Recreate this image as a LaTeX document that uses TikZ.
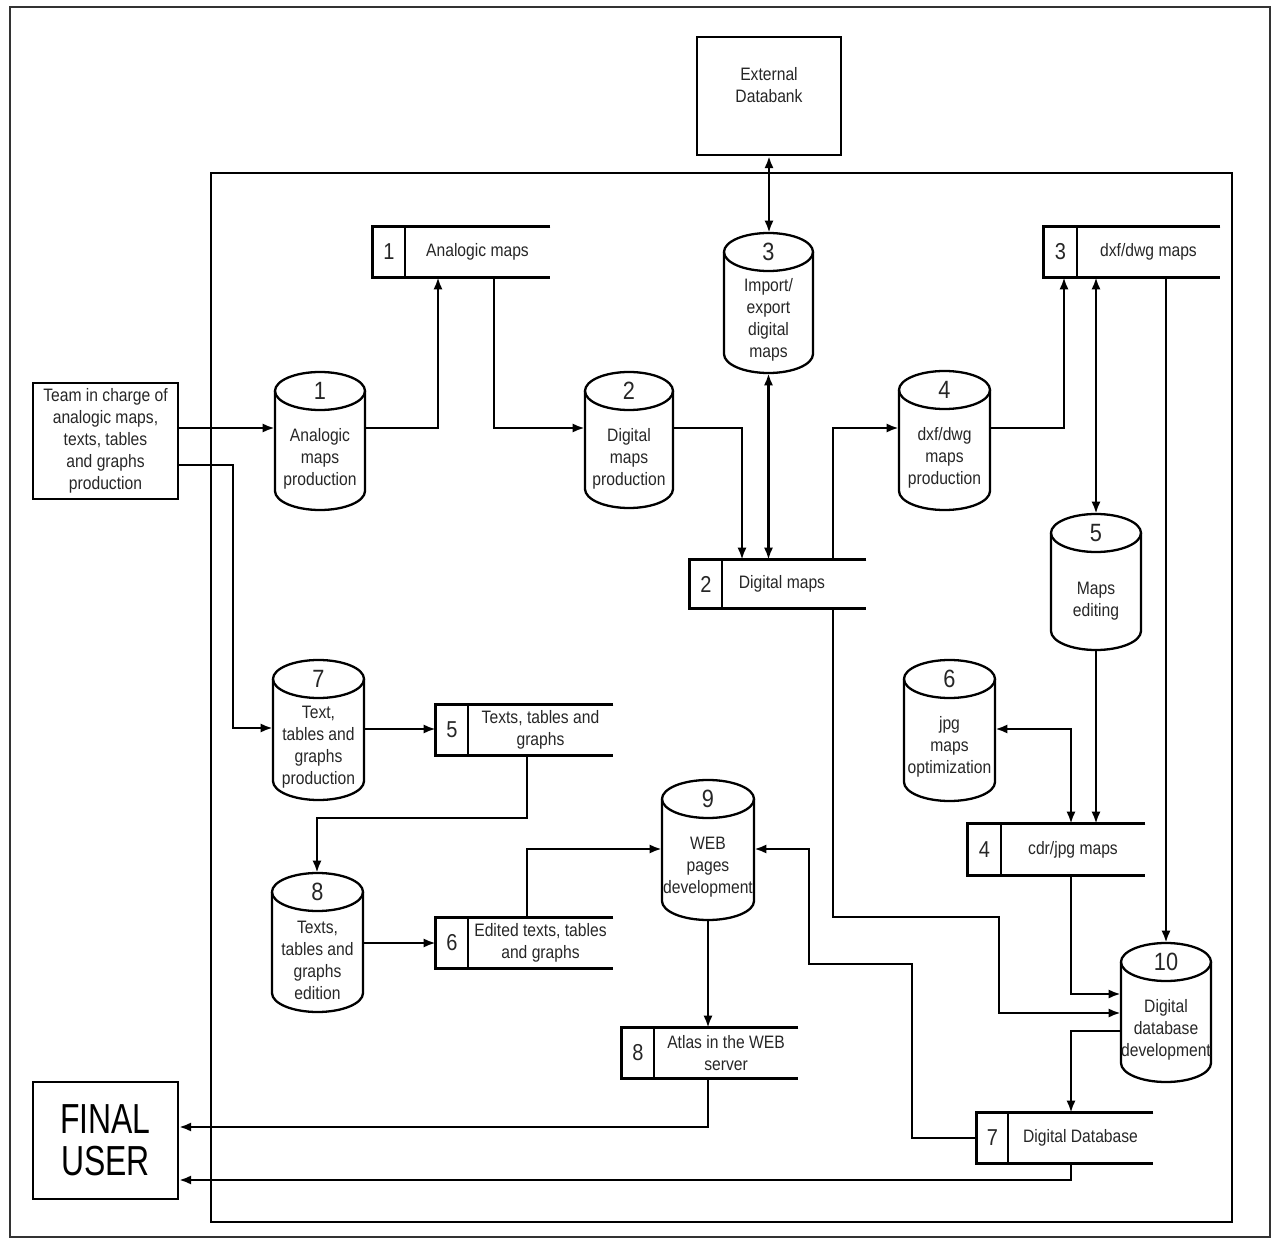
\documentclass[tikz,border=0pt]{standalone}
\usepackage{fontspec}
\setmainfont{Liberation Sans}[FakeStretch=0.87]
\newfontfamily\bigfont{Liberation Sans}[FakeStretch=0.76]
\usetikzlibrary{arrows.meta,fit}

\newcommand\dstore[9]{%
  \node[fit={(#2,#3) (#4,#5)}, inner sep=0pt] (#1) {};
  \draw[ln] (#1.north east) -- (#1.north west) -- (#1.south west) -- (#1.south east);
  \draw[ln] (#6,#3) -- (#6,#5);
  \node[snum] at ({(#2+#6)/2},{(#3+#5)/2}) {#7};
  \node[txt] at ({(#6+#4)/2+#9},{(#3+#5)/2}) {#8};
}
\newcommand\cylproc[7]{%
  \node[fit={(#2,#3) (#4,#5)}, inner sep=0pt] (#1) {};
  \draw[ln] (#2,#3+19) -- (#2,#5-19)
     arc[start angle=180, end angle=0, x radius={(#4-#2)/2}, y radius=19]
     -- (#4,#3+19);
  \draw[ln] ({(#2+#4)/2},#3+19) ellipse[x radius={(#4-#2)/2}, y radius=19];
  \node[cnum] at ({(#2+#4)/2},#3+19) {#6};
  \node[txt] at ({(#2+#4)/2},#3+87) {#7};
}

\begin{document}
\begin{tikzpicture}[x=0.5pt,y=-0.5pt,
  ln/.style={line width=1.15pt},
  flow/.style={line width=1.15pt, -{Latex[length=6pt,width=4.6pt]}},
  bflow/.style={line width=1.15pt, {Latex[length=6pt,width=4.6pt]}-{Latex[length=6pt,width=4.6pt]}},
  txt/.style={font=\fontsize{9}{11}\selectfont, align=center, inner sep=0pt, text=black!85},
  cnum/.style={font=\fontsize{12.5}{14}\selectfont, inner sep=0pt, text=black!85},
  snum/.style={font=\fontsize{11.5}{13}\selectfont, inner sep=0pt, text=black!85},
  extbox/.style={draw, line width=1.15pt, inner sep=0pt}]

\useasboundingbox (0,0) rectangle (1276,1241);
\draw[line width=1pt, black!80] (10,7) rectangle (1270,1237);
\draw[line width=1.15pt] (211,173) rectangle (1232,1222);

% external entities
\node[extbox, fit={(697,37) (841,155)}] (ext) {};
\node[txt] at (769,85) {External\\Databank};
\node[extbox, fit={(33,383) (178,499)}] (team) {};
\node[txt] at (team.center) {Team in charge of\\analogic maps,\\texts, tables\\and graphs\\production};
\node[extbox, fit={(33,1082) (178,1199)}] (final) {};
\node[font=\bigfont\fontsize{21}{21}\selectfont, align=center, inner sep=0pt, text=black] at (final.center) {FINAL\\USER};

% data stores
\dstore{d1}{373}{227}{550}{277}{405}{1}{Analogic maps}{0}
\dstore{d2}{690}{560}{866}{608}{722}{2}{Digital maps}{-12}
\dstore{d3}{1044}{227}{1220}{277}{1077}{3}{dxf/dwg maps}{0}
\dstore{d4}{968}{824}{1145}{875}{1001}{4}{cdr/jpg maps}{0}
\dstore{d5}{436}{705}{613}{755}{468}{5}{Texts, tables and\\graphs}{0}
\dstore{d6}{436}{918}{613}{968}{468}{6}{Edited texts, tables\\and graphs}{0}
\dstore{d7}{977}{1113}{1153}{1163}{1008}{7}{Digital Database}{0}
\dstore{d8}{622}{1028}{798}{1078}{654}{8}{Atlas in the WEB\\server}{0}

% processes
\cylproc{c1}{275}{372}{365}{510}{1}{Analogic\\maps\\production}
\cylproc{c2}{585}{372}{673}{508}{2}{Digital\\maps\\production}
\cylproc{c3}{724}{233}{813}{373}{3}{Import/\\export\\digital\\maps}
\cylproc{c4}{899}{371}{990}{510}{4}{dxf/dwg\\maps\\production}
\cylproc{c5}{1051}{514}{1141}{650}{5}{Maps\\editing}
\cylproc{c6}{904}{660}{995}{801}{6}{jpg\\maps\\optimization}
\cylproc{c7}{273}{660}{364}{800}{7}{Text,\\tables and\\graphs\\production}
\cylproc{c8}{272}{873}{363}{1012}{8}{Texts,\\tables and\\graphs\\edition}
\cylproc{c9}{662}{780}{754}{920}{9}{WEB\\pages\\development}
\cylproc{c10}{1121}{943}{1211}{1082}{10}{Digital\\database\\development}

% connectors
\draw[flow] (team.east |- 0,428) -- (c1.west |- 0,428);
\draw[flow] (team.east |- 0,465) -- (233,465) -- (233,728) -- (c7.west |- 0,728);
\draw[flow] (c1.east |- 0,428) -- (438,428) -- (d1.south -| 438,0);
\draw[flow] (d1.south -| 494,0) -- (494,428) -- (c2.west |- 0,428);
\draw[flow] (c2.east |- 0,428) -- (742,428) -- (d2.north -| 742,0);
\draw[bflow] (ext.south) -- (ext.south |- c3.north);
\draw[bflow] (c3.south) -- (c3.south |- d2.north);
\draw[flow] (d2.north -| 833,0) -- (833,428) -- (c4.west |- 0,428);
\draw[flow] (d2.south -| 833,0) -- (833,917) -- (999,917) -- (999,1013) -- (c10.west |- 0,1013);
\draw[flow] (c4.east |- 0,428) -- (1064,428) -- (d3.south -| 1064,0);
\draw[bflow] (d3.south -| c5.north) -- (c5.north);
\draw[flow] (d3.south -| c10.north) -- (c10.north);
\draw[flow] (c5.south) -- (c5.south |- d4.north);
\draw[bflow] (c6.east |- 0,729) -- (1071,729) -- (d4.north -| 1071,0);
\draw[flow] (d4.south -| 1071,0) -- (1071,994) -- (c10.west |- 0,994);
\draw[flow] (c10.west |- 0,1031) -- (1071,1031) -- (d7.north -| 1071,0);
\draw[flow] (d7.west) -- (912,1138) -- (912,964) -- (809,964) -- (809,849) -- (c9.east |- 0,849);
\draw[flow] (d7.south -| 1071,0) -- (1071,1180) -- (final.east |- 0,1180);
\draw[flow] (d8.south -| 708,0) -- (708,1127) -- (final.east |- 0,1127);
\draw[flow] (c9.south) -- (c9.south |- d8.north);
\draw[flow] (d6.north -| 527,0) -- (527,849) -- (c9.west |- 0,849);
\draw[flow] (c8.east |- 0,943) -- (d6.west |- 0,943);
\draw[flow] (d5.south -| 527,0) -- (527,818) -- (317,818) -- (c8.north -| 317,0);
\draw[flow] (c7.east |- 0,729) -- (d5.west |- 0,729);
\end{tikzpicture}
\end{document}
